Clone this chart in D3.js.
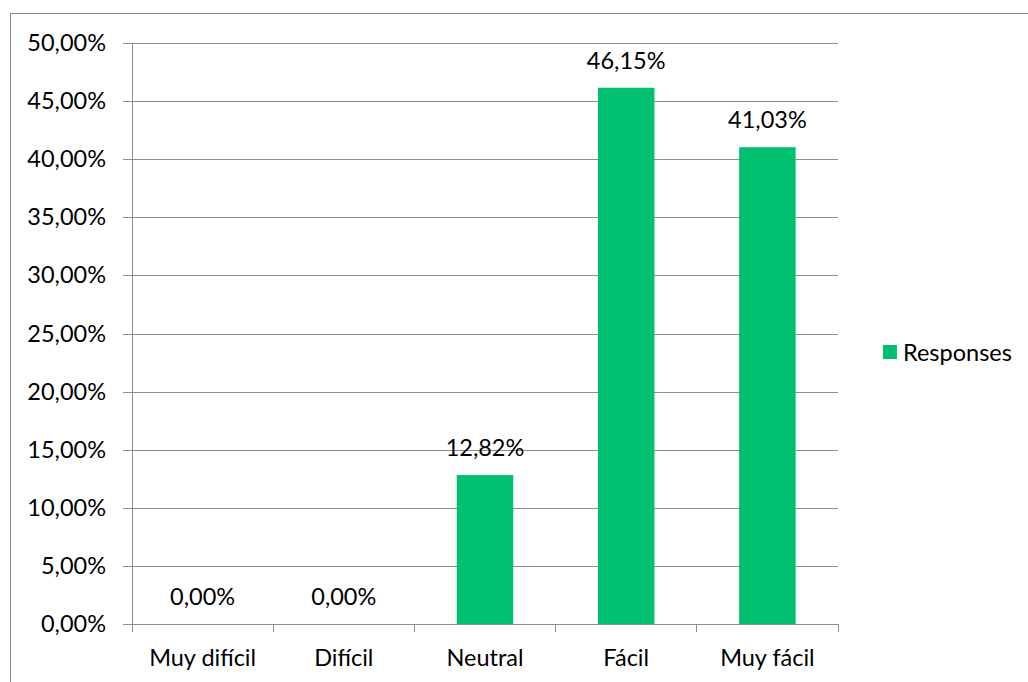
<!DOCTYPE html>
<html>
<head>
<meta charset="utf-8">
<script src="https://cdn.jsdelivr.net/npm/d3@7"></script>
<style>
  html, body { margin: 0; padding: 0; background: #fff; }
  svg { display: block; font-family: Lato, "Open Sans", sans-serif; }
</style>
</head>
<body>
<svg id="chart" width="1028" height="682"></svg>
<script>
const categories = ["Muy difícil", "Difícil", "Neutral", "Fácil", "Muy fácil"];
const values = [0.00, 0.00, 12.82, 46.15, 41.03];
const yTicks = [0, 5, 10, 15, 20, 25, 30, 35, 40, 45, 50];
const seriesName = "Responses";

const svg = d3.select("#chart");
const fmt = v => v.toFixed(2).replace(".", ",") + "%";
const barColor = "#00BF6F";
const gridColor = "#8C8C8C";
const fontSize = 23.5;

// outer frame
svg.append("rect")
  .attr("x", 10.5).attr("y", 13.5)
  .attr("width", 1030).attr("height", 700)
  .attr("fill", "none").attr("stroke", "#898989").attr("stroke-width", 1);

const plot = { left: 132, right: 838, top: 43, bottom: 624 };

const x = d3.scaleBand().domain(categories)
  .range([plot.left, plot.right]).paddingInner(0).paddingOuter(0);
const y = d3.scaleLinear().domain([0, 50]).range([plot.bottom, plot.top]);

// gridlines + y labels
const yAxis = d3.axisLeft(y).tickValues(yTicks)
  .tickSize(-(plot.right - plot.left)).tickPadding(26)
  .tickFormat(fmt);
const gy = svg.append("g").attr("transform", `translate(${plot.left},0)`).call(yAxis);
gy.select(".domain").remove();
gy.selectAll(".tick line").attr("stroke", gridColor).attr("x1", -9).attr("shape-rendering", "crispEdges");
gy.selectAll(".tick text").attr("font-size", fontSize).attr("fill", "#000")
  .attr("font-family", "Lato, 'Open Sans', sans-serif");

// vertical axis line
svg.append("line")
  .attr("x1", plot.left).attr("x2", plot.left)
  .attr("y1", plot.top).attr("y2", plot.bottom)
  .attr("stroke", gridColor).attr("shape-rendering", "crispEdges");

// bars
svg.append("g").selectAll("rect").data(values).join("rect")
  .attr("x", (d, i) => x(categories[i]) + x.bandwidth() * 0.3)
  .attr("width", x.bandwidth() * 0.4)
  .attr("y", d => y(d))
  .attr("height", d => y(0) - y(d))
  .attr("fill", barColor);

// value labels
svg.append("g").selectAll("text").data(values).join("text")
  .attr("x", (d, i) => x(categories[i]) + x.bandwidth() / 2)
  .attr("y", d => y(d) - 19)
  .attr("text-anchor", "middle")
  .attr("font-size", fontSize).attr("fill", "#000")
  .text(d => fmt(d));

// x axis with tick marks at band edges
const gx = svg.append("g").attr("transform", `translate(0,${plot.bottom})`);
gx.append("line").attr("x1", plot.left).attr("x2", plot.right)
  .attr("stroke", gridColor).attr("shape-rendering", "crispEdges");
const edges = categories.map(c => x(c)).concat([plot.right]);
gx.selectAll("line.edge").data(edges).join("line").attr("class", "edge")
  .attr("x1", d => d).attr("x2", d => d).attr("y1", 0).attr("y2", 8)
  .attr("stroke", gridColor).attr("shape-rendering", "crispEdges");
gx.selectAll("text").data(categories).join("text")
  .attr("x", d => x(d) + x.bandwidth() / 2)
  .attr("y", 42)
  .attr("text-anchor", "middle")
  .attr("font-size", fontSize).attr("fill", "#000")
  .text(d => d);

// legend
const lg = svg.append("g").attr("transform", "translate(883,345)");
lg.append("rect").attr("width", 14).attr("height", 14).attr("fill", barColor);
lg.append("text").attr("x", 20).attr("y", 15.5)
  .attr("font-size", fontSize).attr("fill", "#000").text(seriesName);
</script>
</body>
</html>
